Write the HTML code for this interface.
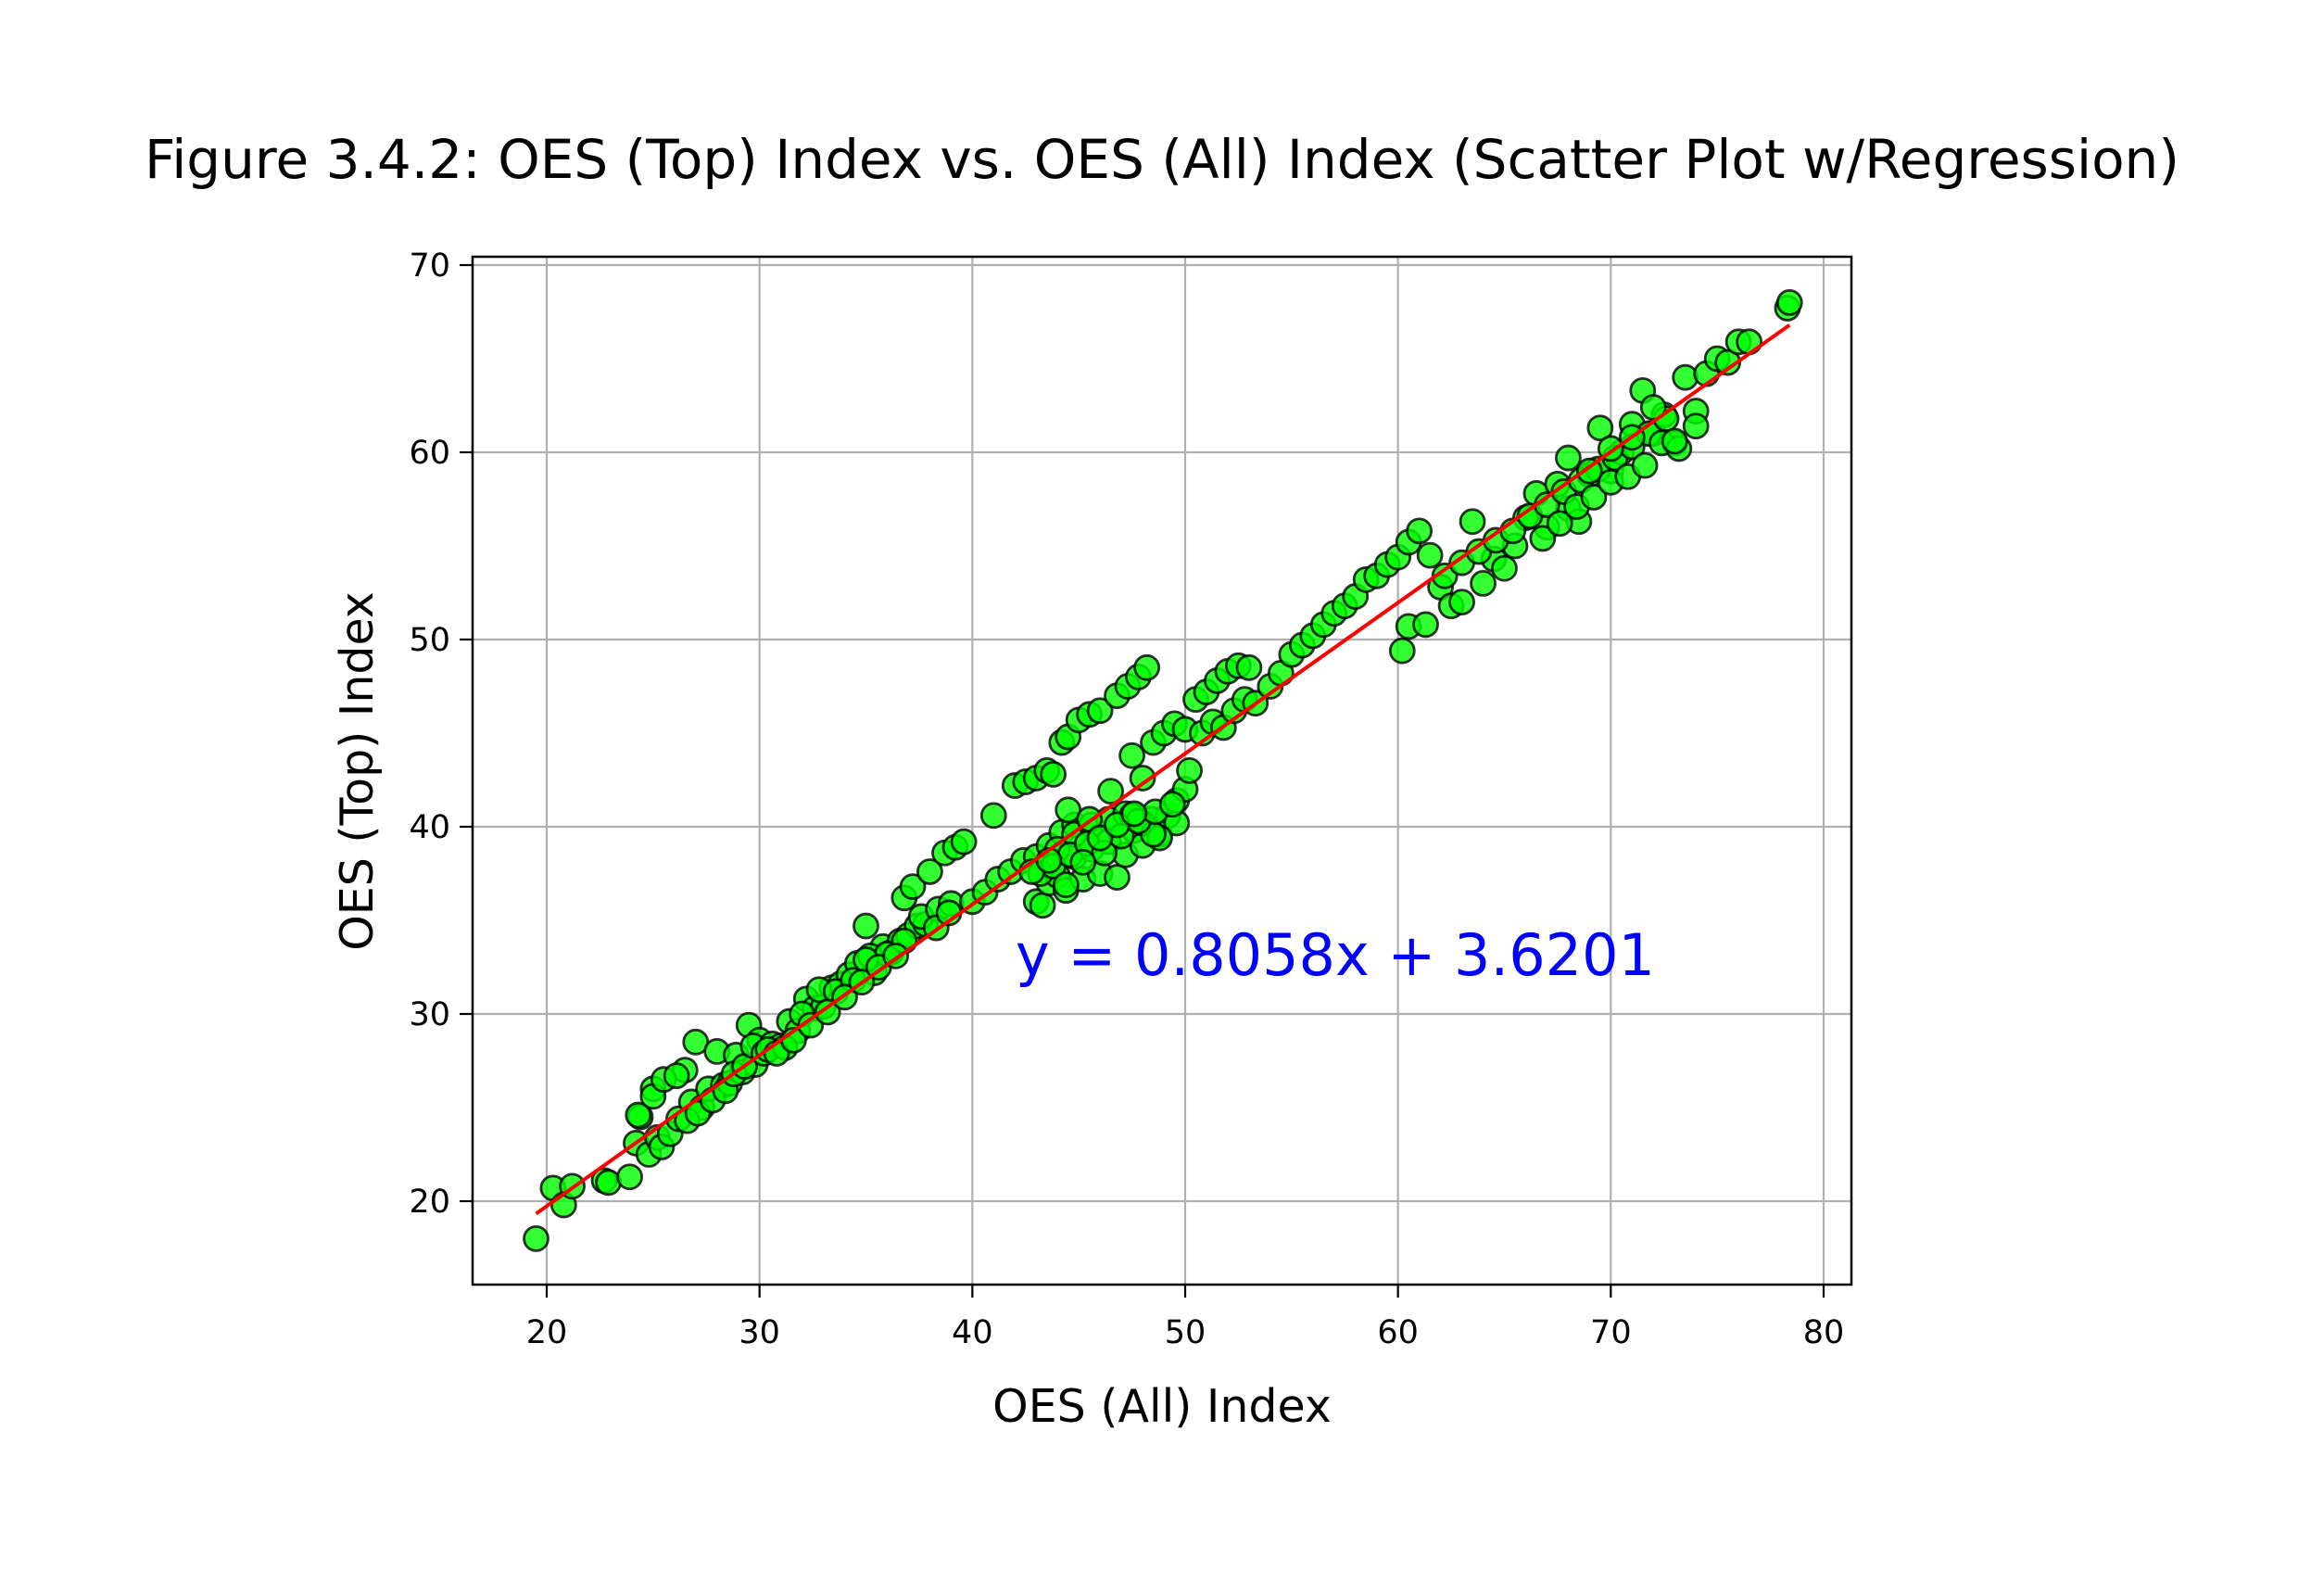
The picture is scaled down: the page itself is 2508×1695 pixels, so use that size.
<!DOCTYPE html>
<html><head><meta charset="utf-8"><style>
html,body{margin:0;padding:0;background:#fff;}
svg{display:block;font-family:"DejaVu Sans","Liberation Sans",sans-serif;}
</style></head><body>
<svg id="chart" width="2508" height="1695" viewBox="0 0 2508 1695" xmlns="http://www.w3.org/2000/svg">
<rect width="2508" height="1695" fill="#fff"/>
<text x="1254" y="192" font-size="58" text-anchor="middle">Figure 3.4.2: OES (Top) Index vs. OES (All) Index (Scatter Plot w/Regression)</text>
<g id="grid"></g>
<g id="points"></g>
<g id="reg"></g>
<rect x="510" y="277" width="1488" height="1109" fill="none" stroke="#000" stroke-width="2.5"/>
<g id="ticks"></g>
<text x="1096" y="1052" font-size="62" fill="#0000ff">y = 0.8058x + 3.6201</text>
<text x="1254" y="1534" font-size="49" text-anchor="middle">OES (All) Index</text>
<text transform="translate(402,832) rotate(-90)" font-size="49" text-anchor="middle">OES (Top) Index</text>
</svg>
<script>
const xTicks=[20,30,40,50,60,70,80];
const yTicks=[20,30,40,50,60,70];
const regCoef=[0.8058,3.6201];
const regRange=[19.5,78.4];
const xs=[19.5,20.3,20.8,21.2,22.7,22.9,23.9,24.2,24.4,24.8,25,25.2,25.4,25.8,26.2,26.5,26.8,27,27.3,27.6,28,28.3,28.6,28.9,29.2,29.5,29.8,30,24.3,25,25.5,26.1,26.6,27.1,27.8,28.4,28.8,29.3,29.7,30.2,30.6,31,31.4,31.8,32.2,32.6,33,33.4,33.8,34.2,34.6,35,35.4,35.8,36.2,36.6,37,37.4,37.8,30.4,31.2,32,32.8,33.6,34.4,35.2,36,36.8,37.6,38.4,39,35,36.8,37.2,38,38.7,39.2,39.6,38.3,38.9,40,40.6,41.2,41.8,42.4,43,43.6,44.2,44.8,41,42,42.5,43,43.5,43.8,44.2,44.5,45,45.5,46,46.8,47.3,47.8,48.2,43,43.3,43.6,44,44.4,44.8,45.2,45.6,46,46.4,46.8,47.2,47.6,48,48.4,48.8,49.2,49.6,43.2,44,44.8,45.6,46.4,47.2,48,48.8,49.6,50,44.5,45.5,46.5,47.5,48.5,47.5,48,48.5,49,49.5,50,50.2,50.5,51,51.5,52,52.5,53,50.8,51.3,51.8,52.3,52.8,53.3,54,54.5,55,55.5,56,56.5,57,57.5,58,58.5,59,59.5,60,60.5,61,60.2,60.5,61.3,61.5,62,62.5,63,63.5,64,64.5,65,65.5,66,66.5,67,67.5,68,68.5,69,69.5,70,70.5,71,71.5,72,72.5,73,73.5,74,74,74.5,75,75.5,76,76.5,78.3,78.4,62.2,63,63.8,64.6,65.4,66.2,67,67.8,68.6,69.4,70.2,71,71.8,72.6,66.8,67.6,68.4,69.2,70,70.8,71.6,72.4,73.2,68,69,70,71,72,73,30.8,31.6,32.4,33.2,34,34.8,35.6,36.4,43.8,44.6,45.4,46.2,47,47.8,48.6,49.4,42.8,43.6,44.4,45.2,46,46.8,47.6];
const ys=[18,20.7,19.8,20.8,21.1,21,21.3,23.1,24.5,22.5,26,23.4,22.9,23.6,24.4,27,25.3,28.5,25,26,28,26.2,26.3,27.8,26.9,29.4,27.3,28.6,24.6,25.6,26.5,26.7,24.3,24.7,25.4,25.9,26.8,27.2,28.3,27.9,28.4,28.3,29.6,29.1,30.8,30.3,30.4,31.4,31.6,32.1,32.7,34.7,32.2,33.6,33.3,33.9,34.2,34.7,34.8,28.1,28.2,30,31.3,31.2,31.8,33.1,33.2,33.9,35.2,35.6,35.9,32.9,36.2,36.8,37.6,38.6,38.9,39.2,34.6,35.4,36,36.5,37.2,37.6,38.2,38.4,39,39.7,40.1,40.6,42.2,42.4,42.6,43,42.8,44.5,44.8,45.7,46,46.2,47,47.5,48,48.5,36,35.8,37,37.4,36.6,38.4,37.2,38.8,37.5,39.2,37.3,38.5,39.8,39,40.4,39.6,40.6,40.2,37.5,38.8,39.6,40.1,40.4,40.7,40.2,39.4,41.4,42,40.9,40.4,41.9,40.6,39.6,43.8,42.6,44.5,45,45.5,45.2,43,46.8,47.2,47.8,48.3,48.6,48.5,45,45.6,45.3,46.2,46.8,46.6,47.5,48.2,49.2,49.7,50.2,50.8,51.4,51.8,52.3,53.2,53.4,54,54.4,55.2,55.8,49.4,50.7,50.8,54.5,52.8,51.8,52,56.3,53,54.3,53.8,55,56.5,57.8,56,58.3,57,56.3,58.8,61.3,59,60,61.5,63.3,61,62,60.5,64,62.2,61.4,64.2,65,64.8,65.9,65.9,67.7,68,53.4,54.1,54.7,55.3,55.8,56.6,57.2,57.9,58.5,59.1,59.7,60.3,61,61.8,55.4,56.2,57.1,57.6,58.4,58.7,59.3,60.5,60.2,59.7,59,60.2,60.8,62.4,60.6,27.9,28.6,29.4,30.1,30.9,31.7,32.5,33.1,37.9,38.5,39.1,38.6,39.5,40.3,40.8,41.2,37.6,38.2,36.9,38.1,39.4,40.1,40.7];
const X0=510,X1=1998,Y0=1386,Y1=277;
function sx(v){return 590+(v-20)*(1968-590)/60;}
function sy(v){return 1296-(v-20)*(1296-286)/50;}
const NS='http://www.w3.org/2000/svg';
const grid=document.getElementById('grid'),ticks=document.getElementById('ticks');
xTicks.forEach(t=>{
 const l=document.createElementNS(NS,'line');
 
 
 l.setAttribute('x1',sx(t));l.setAttribute('x2',sx(t));l.setAttribute('y1',Y1);l.setAttribute('y2',Y0);
 l.setAttribute('stroke','#b0b0b0');l.setAttribute('stroke-width','2.2');grid.appendChild(l);
 const k=document.createElementNS(NS,'line');
 
 
 k.setAttribute('x1',sx(t));k.setAttribute('x2',sx(t));k.setAttribute('y1',Y0);k.setAttribute('y2',Y0+14);
 k.setAttribute('stroke','#000');k.setAttribute('stroke-width','2.2');ticks.appendChild(k);
 const tx=document.createElementNS(NS,'text');
 
 
 tx.setAttribute('x',sx(t));tx.setAttribute('y',1449);tx.setAttribute('font-size','35');tx.setAttribute('text-anchor','middle');
 tx.textContent=t;ticks.appendChild(tx);
});
yTicks.forEach(t=>{
 const l=document.createElementNS(NS,'line');
 
 
 l.setAttribute('x1',X0);l.setAttribute('x2',X1);l.setAttribute('y1',sy(t));l.setAttribute('y2',sy(t));
 l.setAttribute('stroke','#b0b0b0');l.setAttribute('stroke-width','2.2');grid.appendChild(l);
 const k=document.createElementNS(NS,'line');
 
 
 k.setAttribute('x1',X0-14);k.setAttribute('x2',X0);k.setAttribute('y1',sy(t));k.setAttribute('y2',sy(t));
 k.setAttribute('stroke','#000');k.setAttribute('stroke-width','2.2');ticks.appendChild(k);
 const tx=document.createElementNS(NS,'text');
 
 
 tx.setAttribute('x',X0-24);tx.setAttribute('y',sy(t)+12);tx.setAttribute('font-size','35');tx.setAttribute('text-anchor','end');
 tx.textContent=t;ticks.appendChild(tx);
});
const pts=document.getElementById('points');
xs.forEach((x,i)=>{
 const c=document.createElementNS(NS,'circle');
 
 
 c.setAttribute('cx',sx(x));c.setAttribute('cy',sy(ys[i]));c.setAttribute('r','13');
 c.setAttribute('fill','#00ff00');c.setAttribute('fill-opacity','0.8');
 c.setAttribute('stroke','#000');c.setAttribute('stroke-opacity','0.8');c.setAttribute('stroke-width','2.8');
 pts.appendChild(c);
});
const reg=document.getElementById('reg');
const rl=document.createElementNS(NS,'line');


rl.setAttribute('x1',sx(regRange[0]));rl.setAttribute('y1',sy(regCoef[0]*regRange[0]+regCoef[1]));
rl.setAttribute('x2',sx(regRange[1]));rl.setAttribute('y2',sy(regCoef[0]*regRange[1]+regCoef[1]));
rl.setAttribute('stroke','#ff0000');rl.setAttribute('stroke-width','4');
reg.appendChild(rl);
</script>
</body></html>
